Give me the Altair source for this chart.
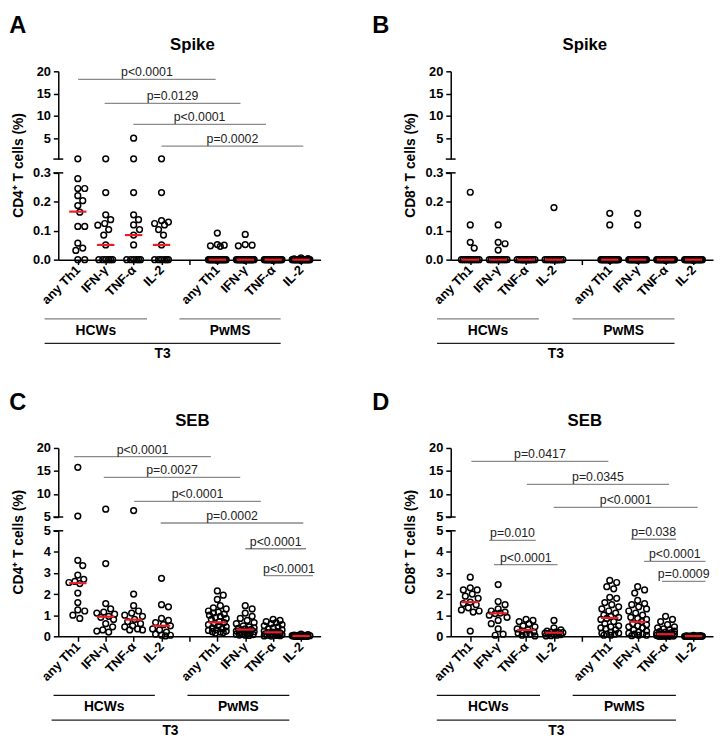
import math
import altair as alt
import pandas as pd

FONT = "Liberation Sans"

CATEGORIES = ["any Th1", "IFN-γ", "TNF-α", "IL-2"]
COHORTS = ["HCWs", "PwMS"]
TIMEPOINT = "T3"
TICK_LABELS = CATEGORIES + [""] + CATEGORIES
POSITIONS = [0, 1, 2, 3, 5, 6, 7, 8]

# ---------------- Panel A : CD4+ Spike ----------------
A_HCWS = [
    [0.35, 0.28, 0.246, 0.246, 0.221, 0.204, 0.187, 0.164, 0.115, 0.115, 0.057, 0.04, 0.032, 0, 0],
    [0.35, 0.232, 0.155, 0.138, 0.125, 0.119, 0.104, 0.085, 0.051, 0, 0, 0, 0, 0, 0],
    [5.0, 0.35, 0.232, 0.155, 0.138, 0.12, 0.104, 0.085, 0.051, 0, 0, 0, 0, 0, 0],
    [0.35, 0.232, 0.135, 0.13, 0.125, 0.12, 0.104, 0.085, 0.051, 0, 0, 0, 0, 0, 0],
]
A_PWMS = [
    [0.092, 0.052, 0.05, 0.048, 0.046, 0, 0, 0, 0, 0, 0, 0, 0, 0, 0, 0, 0, 0, 0, 0, 0, 0, 0, 0, 0, 0, 0, 0, 0, 0],
    [0.087, 0.052, 0.05, 0.048, 0, 0, 0, 0, 0, 0, 0, 0, 0, 0, 0, 0, 0, 0, 0, 0, 0, 0, 0, 0, 0, 0, 0, 0, 0, 0],
    [0, 0, 0, 0, 0, 0, 0, 0, 0, 0, 0, 0, 0, 0, 0, 0, 0, 0, 0, 0, 0, 0, 0, 0, 0, 0, 0, 0, 0, 0],
    [0.006, 0.004, 0.003, 0, 0, 0, 0, 0, 0, 0, 0, 0, 0, 0, 0, 0, 0, 0, 0, 0, 0, 0, 0, 0, 0, 0, 0, 0, 0, 0],
]
A_MEDIANS = [0.166, 0.051, 0.085, 0.051, 0, 0, 0, 0]
A_P_LABELS = ["p<0.0001", "p=0.0129", "p<0.0001", "p=0.0002"]
A_P_FROM = [0.01, 0.96, 1.99, 3.0]
A_P_TO = [4.94, 5.83, 6.74, 8.08]
A_P_Y = [18.2, 12.8, 8.1, 3.2]
A_P_SEG = ["u", "u", "u", "u"]

# ---------------- Panel B : CD8+ Spike ----------------
B_HCWS = [
    [0.233, 0.12, 0.06, 0.04, 0, 0, 0, 0, 0, 0, 0, 0, 0, 0, 0],
    [0.12, 0.06, 0.055, 0.033, 0, 0, 0, 0, 0, 0, 0, 0, 0, 0, 0],
    [0, 0, 0, 0, 0, 0, 0, 0, 0, 0, 0, 0, 0, 0, 0],
    [0.18, 0, 0, 0, 0, 0, 0, 0, 0, 0, 0, 0, 0, 0, 0],
]
B_PWMS = [
    [0.16, 0.12, 0, 0, 0, 0, 0, 0, 0, 0, 0, 0, 0, 0, 0, 0, 0, 0, 0, 0, 0, 0, 0, 0, 0, 0, 0, 0, 0, 0],
    [0.16, 0.12, 0, 0, 0, 0, 0, 0, 0, 0, 0, 0, 0, 0, 0, 0, 0, 0, 0, 0, 0, 0, 0, 0, 0, 0, 0, 0, 0, 0],
    [0, 0, 0, 0, 0, 0, 0, 0, 0, 0, 0, 0, 0, 0, 0, 0, 0, 0, 0, 0, 0, 0, 0, 0, 0, 0, 0, 0, 0, 0],
    [0, 0, 0, 0, 0, 0, 0, 0, 0, 0, 0, 0, 0, 0, 0, 0, 0, 0, 0, 0, 0, 0, 0, 0, 0, 0, 0, 0, 0, 0],
]
B_MEDIANS = [0, 0, 0, 0, 0, 0, 0, 0]
B_P_LABELS = []
B_P_FROM = []
B_P_TO = []
B_P_Y = []
B_P_SEG = []

# ---------------- Panel C : CD4+ SEB ----------------
C_HCWS = [
    [15.8, 5.2, 3.6, 3.35, 2.9, 2.7, 2.6, 2.55, 2.5, 2.05, 1.6, 1.25, 1.2, 1.0, 0.85],
    [6.7, 3.45, 1.55, 1.3, 1.15, 1.1, 1.05, 0.95, 0.9, 0.8, 0.6, 0.45, 0.3, 0.25, 0.2],
    [6.4, 2.0, 1.45, 1.2, 1.1, 1.0, 0.95, 0.8, 0.7, 0.6, 0.5, 0.45, 0.35, 0.3, 0.3],
    [2.75, 1.5, 1.4, 0.85, 0.75, 0.65, 0.55, 0.5, 0.35, 0.3, 0.2, 0.1, 0.05, 0.05, 0.02],
]
C_PWMS = [
    [2.15, 1.95, 1.75, 1.45, 1.35, 1.3, 1.2, 1.15, 1.1, 1.05, 1.0, 0.95, 0.9, 0.85, 0.8,
     0.7, 0.65, 0.6, 0.55, 0.5, 0.45, 0.4, 0.35, 0.3, 0.28, 0.25, 0.22, 0.2, 0.18, 0.15],
    [1.45, 1.3, 1.1, 0.95, 0.85, 0.75, 0.65, 0.6, 0.5, 0.45, 0.4, 0.38, 0.35, 0.33, 0.3,
     0.28, 0.25, 0.22, 0.2, 0.18, 0.15, 0.12, 0.1, 0.1, 0.08, 0.06, 0.05, 0.04],
    [0.8, 0.75, 0.7, 0.65, 0.6, 0.55, 0.5, 0.45, 0.4, 0.35, 0.3, 0.25, 0.22, 0.2, 0.18,
     0.16, 0.14, 0.12, 0.1, 0.09, 0.08, 0.06, 0.05, 0.04, 0.03, 0.02, 0.01],
    [0.1, 0.08, 0.06, 0.05, 0.04, 0.03, 0.03, 0.02, 0.02, 0.02, 0.01, 0.01, 0.01, 0, 0, 0, 0, 0, 0, 0],
]
C_MEDIANS = [2.52, 0.93, 0.79, 0.5, 0.66, 0.32, 0.19, 0.02]
C_P_LABELS = ["p<0.0001", "p=0.0027", "p<0.0001", "p=0.0002", "p<0.0001", "p<0.0001"]
C_P_FROM = [-0.13, 0.93, 2.02, 2.97, 6.0, 6.7]
C_P_TO = [4.77, 5.82, 6.56, 8.08, 8.18, 8.43]
C_P_Y = [18.1, 13.6, 8.4, 3.7, 4.15, 2.88]
C_P_SEG = ["u", "u", "u", "u", "l", "l"]

# ---------------- Panel D : CD8+ SEB ----------------
D_HCWS = [
    [2.8, 2.3, 2.2, 2.2, 2.0, 1.9, 1.8, 1.62, 1.55, 1.5, 1.35, 1.25, 1.2, 1.15, 0.25],
    [2.45, 1.65, 1.5, 1.3, 1.2, 1.15, 1.1, 1.08, 1.0, 0.9, 0.75, 0.6, 0.35, 0.1, 0.05],
    [0.8, 0.75, 0.7, 0.6, 0.5, 0.45, 0.35, 0.3, 0.25, 0.2, 0.15, 0.1, 0.1, 0.05, 0.02],
    [0.75, 0.4, 0.3, 0.25, 0.2, 0.2, 0.18, 0.17, 0.15, 0.12, 0.1, 0.08, 0.05, 0.03, 0.02],
]
D_PWMS = [
    [2.65, 2.55, 2.35, 2.25, 1.85, 1.8, 1.6, 1.5, 1.4, 1.3, 1.2, 1.1, 1.0, 0.95, 0.9, 0.85,
     0.8, 0.7, 0.6, 0.5, 0.45, 0.4, 0.35, 0.3, 0.2, 0.15, 0.15, 0.1, 0.1, 0.05, 0.05],
    [2.35, 2.2, 2.05, 1.7, 1.55, 1.5, 1.4, 1.3, 1.2, 1.1, 1.0, 0.9, 0.85, 0.8, 0.7,
     0.6, 0.55, 0.5, 0.45, 0.4, 0.3, 0.25, 0.2, 0.15, 0.1, 0.1, 0.05, 0.05, 0.03],
    [0.95, 0.8, 0.7, 0.55, 0.45, 0.4, 0.35, 0.3, 0.25, 0.22, 0.2, 0.18, 0.15, 0.1, 0.1,
     0.1, 0.08, 0.06, 0.05, 0.04, 0.03, 0.02, 0.01, 0, 0, 0, 0],
    [0.04, 0.03, 0.02, 0.02, 0.01, 0.01, 0.01, 0, 0, 0, 0, 0, 0, 0, 0, 0, 0, 0, 0, 0],
]
D_MEDIANS = [1.62, 1.09, 0.3, 0.17, 0.87, 0.69, 0.1, 0.01]
D_P_LABELS = ["p=0.0417", "p=0.0345", "p<0.0001", "p=0.010", "p<0.0001", "p=0.038", "p<0.0001", "p=0.0009"]
D_P_FROM = [0.04, 2.03, 2.99, 0.68, 0.85, 5.77, 6.23, 6.87]
D_P_TO = [4.95, 7.12, 8.15, 2.35, 3.13, 7.37, 8.43, 8.43]
D_P_Y = [17.1, 12.1, 7.1, 4.55, 3.4, 4.6, 3.55, 2.6]
D_P_SEG = ["u", "u", "u", "l", "l", "l", "l", "l"]

# ---------------- layout / style ----------------
W, H = 266, 191
GAP = 14
XDOM = [-0.7, 8.7]
PXU = W / (XDOM[1] - XDOM[0])
RED = "#ee1c25"
PGRAY = "#8a8a8a"
LETTER_Y = -46


def swarm(ypx, d=7.0, wmax=9.0):
    order = sorted(range(len(ypx)), key=lambda i: (ypx[i], i))
    cands = [0.0]
    k = 1
    while k <= wmax:
        cands += [float(k), float(-k)]
        k += 1
    placed = []
    offs = [0.0] * len(ypx)
    for i in order:
        y = ypx[i]
        near = [(py, po) for (py, po) in placed if abs(py - y) < d]
        best, best_md = 0.0, -1.0
        for c in cands:
            md = min((math.hypot(py - y, po - c) for py, po in near), default=1e9)
            if md >= d:
                best = c
                break
            if md > best_md + 1e-9:
                best_md, best = md, c
        offs[i] = best
        placed.append((y, best))
    return offs


def build_panel(cfg, hcws, pwms, medians, p_lab, p_from, p_to, p_y, p_seg):
    uh = cfg["upper_h"]
    ltop = uh + GAP
    lh = H - ltop
    ulo, uhi = cfg["upper_dom"]
    lmax = cfg["lower_max"]

    def ypix(v):
        if v > lmax:
            return uh * (1 - (min(v, uhi) - ulo) / (uhi - ulo))
        return ltop + lh * (1 - v / lmax)

    rows = []
    for g, series in enumerate((hcws, pwms)):
        for j, vals in enumerate(series):
            pos = POSITIONS[g * 4 + j]
            offs = swarm([ypix(v) for v in vals])
            for v, o in zip(vals, offs):
                rows.append({"xj": pos + o / PXU, "v": v})
    pts = pd.DataFrame(rows, columns=["xj", "v"])
    up_pts = pts[pts.v > lmax]
    lo_pts = pts[pts.v <= lmax]

    xs = alt.Scale(domain=XDOM, nice=False, zero=False)
    lab_arr = "[" + ",".join("'" + t + "'" for t in TICK_LABELS) + "]"
    xaxis = alt.Axis(values=list(range(9)), labelExpr=lab_arr + "[datum.value]",
                     labelAngle=315, labelAlign="right", labelBaseline="middle",
                     labelPadding=3, tickSize=5, tickWidth=1.5, tickColor="black",
                     domainColor="black", domainWidth=1.5, labelFont=FONT,
                     labelFontSize=13, labelFontWeight="bold", labelColor="black",
                     labelFlush=False, labelOverlap=False, grid=False, title=None)

    def X(f):
        return alt.X(f + ":Q", scale=xs, axis=xaxis, title=None)

    def yaxis(vals, fmt):
        return alt.Axis(values=vals, format=fmt, orient="left", grid=False, title=None,
                        tickSize=5, tickWidth=1.5, tickColor="black", domainColor="black",
                        domainWidth=1.5, labelFont=FONT, labelFontSize=13,
                        labelFontWeight="bold", labelColor="black", labelPadding=3,
                        labelFlush=False, labelOverlap=False)

    us = alt.Scale(domain=[ulo, uhi], range=[uh, 0], nice=False, zero=False)
    ls = alt.Scale(domain=[0, lmax], range=[H, ltop], nice=False, zero=False)
    uax = yaxis(cfg["upper_ticks"], "d")
    lax = yaxis(cfg["lower_ticks"], cfg["lower_fmt"])

    def YU(f):
        return alt.Y(f + ":Q", scale=us, axis=uax, title=None)

    def YL(f):
        return alt.Y(f + ":Q", scale=ls, axis=lax, title=None)

    one = pd.DataFrame({"k": [0]})
    pdf = pd.DataFrame({"lab": p_lab, "x1": p_from, "x2": p_to, "y": p_y, "seg": p_seg},
                       columns=["lab", "x1", "x2", "y", "seg"])
    pdf["xm"] = (pdf["x1"] + pdf["x2"]) / 2

    def point_layer(df, Y):
        return alt.Chart(df).mark_point(shape="circle", filled=False, size=34, strokeWidth=1.5,
                                        color="black", opacity=1).encode(x=X("xj"), y=Y("v"))

    def p_layers(df, Y):
        rule = alt.Chart(df).mark_rule(color=PGRAY, strokeWidth=1.3).encode(
            x=X("x1"), x2="x2:Q", y=Y("y"))
        txt = alt.Chart(df).mark_text(font=FONT, fontSize=12.5, color="#222", dy=-3,
                                      baseline="alphabetic", align="center").encode(
            x=X("xm"), y=Y("y"), text="lab:N")
        return [rule, txt]

    ulayers = [point_layer(up_pts, YU)]
    pu = pdf[pdf.seg == "u"]
    if len(pu):
        ulayers += p_layers(pu, YU)
    ulayers.append(alt.Chart(one).mark_rule(color="black", strokeWidth=1.5).encode(
        x=alt.value(-5), x2=alt.value(5), y=alt.value(uh)))

    med = pd.DataFrame({"x1": [p - 0.31 for p in POSITIONS], "x2": [p + 0.31 for p in POSITIONS],
                        "m": medians})
    llayers = [point_layer(lo_pts, YL),
               alt.Chart(med).mark_rule(color=RED, strokeWidth=2.2).encode(
                   x=X("x1"), x2="x2:Q", y=YL("m"))]
    pl = pdf[pdf.seg == "l"]
    if len(pl):
        llayers += p_layers(pl, YL)
    llayers.append(alt.Chart(one).mark_rule(color="black", strokeWidth=1.5).encode(
        x=alt.value(-5), x2=alt.value(5), y=alt.value(ltop)))

    # y title, panel letter, panel title
    llayers.append(alt.Chart(one).mark_text(font=FONT, fontSize=14, fontWeight="bold", angle=270,
                                            color="black", align="center", baseline="middle").encode(
        x=alt.value(-40), y=alt.value(H / 2), text=alt.value(cfg["ytitle"])))
    llayers.append(alt.Chart(one).mark_text(font=FONT, fontSize=24, fontWeight="bold",
                                            color="black", align="center", baseline="middle").encode(
        x=alt.value(cfg["letter_x"]), y=alt.value(LETTER_Y), text=alt.value(cfg["letter"])))
    llayers.append(alt.Chart(one).mark_text(font=FONT, fontSize=17, fontWeight="bold",
                                            color="black", align="center", baseline="middle").encode(
        x=alt.value(W / 2 + 3), y=alt.value(-27), text=alt.value(cfg["title"])))

    # cohort / timepoint brackets
    gl = cfg["groups"]
    sub = pd.DataFrame({"name": COHORTS, "x1": [gl[0][0], gl[1][0]], "x2": [gl[0][1], gl[1][1]]})
    sub["xm"] = (sub["x1"] + sub["x2"]) / 2
    tp = pd.DataFrame({"name": [TIMEPOINT], "x1": [gl[2][0]], "x2": [gl[2][1]]})
    tp["xm"] = (tp["x1"] + tp["x2"]) / 2
    llayers.append(alt.Chart(sub).mark_rule(color=cfg["sub_color"], strokeWidth=1.3).encode(
        x=X("x1"), x2="x2:Q", y=alt.value(H + 60)))
    llayers.append(alt.Chart(sub).mark_text(font=FONT, fontSize=14, fontWeight="bold", color="black",
                                            align="center", baseline="middle").encode(
        x=X("xm"), y=alt.value(H + 72), text="name:N"))
    llayers.append(alt.Chart(tp).mark_rule(color="#222", strokeWidth=1.3).encode(
        x=X("x1"), x2="x2:Q", y=alt.value(H + 85)))
    llayers.append(alt.Chart(tp).mark_text(font=FONT, fontSize=14, fontWeight="bold", color="black",
                                           align="center", baseline="middle").encode(
        x=X("xm"), y=alt.value(H + 96), text="name:N"))

    upper = alt.layer(*ulayers)
    lower = alt.layer(*llayers)
    return (alt.layer(upper, lower)
            .resolve_scale(y="independent")
            .resolve_axis(y="independent")
            .properties(width=W, height=H))


SPIKE_CFG = dict(upper_h=89, upper_dom=[0.3, 20], upper_ticks=[5, 10, 15, 20],
                 lower_max=0.3, lower_ticks=[0, 0.1, 0.2, 0.3], lower_fmt=".1f", title="Spike")
SEB_CFG = dict(upper_h=70, upper_dom=[5, 20], upper_ticks=[5, 10, 15, 20],
               lower_max=5, lower_ticks=[0, 1, 2, 3, 4, 5], lower_fmt="d", title="SEB")

pA = build_panel(dict(SPIKE_CFG, letter="A", letter_x=-41, ytitle="CD4⁺ T cells (%)",
                      groups=[(-1.19, 2.48), (3.64, 7.27), (-1.19, 7.27)], sub_color="#808080"),
                 A_HCWS, A_PWMS, A_MEDIANS, A_P_LABELS, A_P_FROM, A_P_TO, A_P_Y, A_P_SEG)
pB = build_panel(dict(SPIKE_CFG, letter="B", letter_x=-71, ytitle="CD8⁺ T cells (%)",
                      groups=[(-1.19, 2.46), (3.67, 7.32), (-1.19, 7.32)], sub_color="#808080"),
                 B_HCWS, B_PWMS, B_MEDIANS, B_P_LABELS, B_P_FROM, B_P_TO, B_P_Y, B_P_SEG)
pC = build_panel(dict(SEB_CFG, letter="C", letter_x=-41, ytitle="CD4⁺ T cells (%)",
                      groups=[(-0.87, 2.76), (3.93, 7.58), (-0.94, 7.58)], sub_color="#111"),
                 C_HCWS, C_PWMS, C_MEDIANS, C_P_LABELS, C_P_FROM, C_P_TO, C_P_Y, C_P_SEG)
pD = build_panel(dict(SEB_CFG, letter="D", letter_x=-71, ytitle="CD8⁺ T cells (%)",
                      groups=[(-1.2, 2.5), (3.67, 7.37), (-1.2, 7.37)], sub_color="#111"),
                 D_HCWS, D_PWMS, D_MEDIANS, D_P_LABELS, D_P_FROM, D_P_TO, D_P_Y, D_P_SEG)

chart = (alt.vconcat(alt.hconcat(pA, pB, spacing=50), alt.hconcat(pC, pD, spacing=50), spacing=28)
         .properties(padding=0)
         .configure_view(stroke="transparent"))

chart.save("out.html", embed_options={"renderer": "svg", "actions": False})
